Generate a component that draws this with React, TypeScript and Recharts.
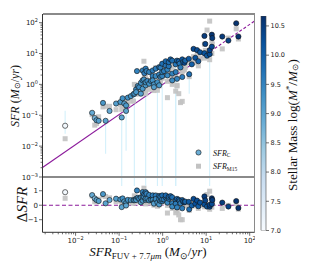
import React from "react";
import { ScatterChart, Scatter, XAxis, YAxis, ErrorBar, ReferenceLine, Legend, BarChart, Bar } from "recharts";

// one entry per galaxy, all in log10 units
const logSfrFuv = [
  -2.24, -1.62, -1.56, -1.52, -1.47, -1.37, -1.31, -1.22, -1.07, -0.97,
  -0.94, -0.92, -0.88, -0.84, -0.84, -0.8, -0.73, -0.67, -0.65, -0.61,
  -0.61, -0.59, -0.57, -0.54, -0.5, -0.5, -0.46, -0.46, -0.46, -0.43,
  -0.42, -0.39, -0.39, -0.39, -0.37, -0.35, -0.31, -0.31, -0.27, -0.23,
  -0.23, -0.23, -0.2, -0.2, -0.16, -0.16, -0.12, -0.08, -0.08, -0.08,
  -0.05, -0.05, -0.01, -0.01, -0.01, 0.03, 0.07, 0.07, 0.11, 0.11,
  0.14, 0.14, 0.18, 0.22, 0.22, 0.22, 0.3, 0.3, 0.33, 0.33,
  0.37, 0.39, 0.41, 0.45, 0.45, 0.47, 0.5, 0.52, 0.6, 0.61,
  0.67, 0.71, 0.75, 0.79, 0.82, 0.86, 0.96, 0.96, 0.98, 1.02,
  1.08, 1.08, 1.13, 1.13, 1.14, 1.37, 1.51, 1.69, 1.74,
];
const logSfrC = [
  -1.34, -0.92, -1.09, -1.16, -1.18, -0.6, -1.18, -0.86, -0.62, -0.57,
  -1.07, -0.45, -0.62, -0.68, -0.86, -0.43, -0.38, -0.32, -0.3, -0.16,
  -0.25, 0.43, -0.05, -0.09, 0.05, -0.3, -0.14, 0.45, 0.13, 0.16,
  0.36, -0.03, 0.07, 0.51, 0.43, 0.11, 0.02, 0.4, 0.11, 0.27,
  0.45, 0.13, 0.0, -0.09, 0.51, 0.27, 0.07, 0.56, 0.32, -0.03,
  0.24, 0.54, 0.27, 0.4, 0.67, 0.43, 0.61, 0.75, 0.48, 0.29,
  0.59, 0.72, 0.81, 0.77, 0.35, 0.13, 0.65, 0.4, 0.77, 0.18,
  0.75, 0.67, 0.55, 0.81, 0.24, 0.72, 0.7, 0.77, 0.83, 0.33,
  0.65, 1.15, 0.86, 1.11, 0.75, 1.04, 1.57, 1.01, 1.31, 0.93,
  0.98, 1.11, 1.61, 1.22, 1.5, 1.55, 1.42, 1.98, 1.55,
];
const logSfrM15 = [
  -1.76, -0.98, -1.32, -1.27, -1.05, -0.73, -0.71, -0.71, -0.82, -0.65,
  -0.81, -0.7, -0.7, -0.65, -0.54, -0.65, -0.54, -0.54, 0.0, -0.1,
  -0.32, -0.28, -0.28, -0.27, -0.3, -0.19, -0.16, 0.1, -0.09, 0.75,
  0.2, -0.19, -0.3, 0.25, 0.15, -0.1, -0.16, 0.1, -0.05, 0.0,
  0.2, -0.1, -0.09, -0.2, 0.54, 0.05, -0.19, 0.3, 0.15, -0.05,
  0.1, 0.3, 0.2, 0.25, 0.4, 0.32, 0.4, 0.55, -0.43, 0.1,
  0.45, 0.5, 0.6, 0.55, 0.2, 0.0, -0.22, 0.25, -0.05, -0.03,
  -0.3, 0.5, -0.59, -0.55, 0.4, 0.45, 0.48, 0.55, 0.7, 0.25,
  0.81, 0.9, 0.7, 0.95, 0.6, 0.85, 1.3, 0.85, 1.1, 1.76,
  0.8, 2.05, 1.4, 1.0, 1.3, 1.15, 1.5, 1.8, 1.47,
];
const logMass = [
  7.1, 8.9, 8.7, 9.0, 9.1, 9.2, 9.0, 8.9, 9.1, 9.2,
  9.0, 9.3, 9.1, 9.2, 9.0, 9.3, 9.2, 9.1, 9.3, 9.4,
  9.2, 9.5, 9.3, 9.4, 9.3, 9.1, 9.2, 9.5, 9.4, 9.3,
  9.6, 9.2, 9.3, 9.6, 9.5, 9.4, 9.3, 9.5, 9.4, 9.5,
  9.6, 9.3, 9.2, 9.1, 9.6, 9.4, 9.3, 9.7, 9.5, 9.2,
  9.4, 9.6, 9.5, 9.5, 9.8, 9.6, 9.7, 9.9, 9.5, 9.4,
  9.7, 9.8, 10.0, 9.8, 9.5, 9.4, 9.7, 9.6, 9.9, 9.5,
  10.0, 9.7, 9.6, 10.1, 9.6, 9.8, 10.3, 9.9, 10.1, 9.8,
  10.0, 10.3, 10.2, 10.3, 10.0, 10.2, 10.5, 10.2, 10.4, 10.1,
  10.3, 10.4, 10.6, 10.3, 10.5, 10.5, 10.4, 10.6, 10.6,
];

// SFR_C uncertainties that show up as pale bars (log10 bounds)
const errFuv = [-2.24, -1.31, -0.94, -0.84, -0.65, -0.39, -0.12, -0.01, 0.3, 0.3, 0.61, 1.08];
const errMid = [-1.34, -1.18, -1.07, -0.68, -0.3, -0.03, 0.07, 0.27, 0.65, 0.4, 0.33, 0.98];
const errLow = [-1.6, -2.25, -3.5, -2.15, -3.5, -3.5, -3.5, -3.5, -3.5, -3.5, -0.3, -3.5];
const errHigh = [-0.85, -1.1, -1.0, -0.6, -0.25, 0.0, 0.1, 0.3, 0.8, 0.45, 0.45, 1.0];

// fitted relation (solid) and its continuation (dashed), log10
const fitFuv = [-2.76, 1.1];
const fitSfr = [-2.69, 1.07];
const extFuv = [1.1, 2.11];
const extSfr = [1.07, 2.05];

const xDecades = [-2, -1, 0, 1, 2];
const yDecades = [-3, -2, -1, 0, 1, 2];
const residTicks = [-1, 0, 1];
const massTicks = [7.0, 7.5, 8.0, 8.5, 9.0, 9.5, 10.0, 10.5];

const X_LIM = [-2.76, 2.11];
const Y_LIM = [-3, 2.28];
const RESID_LIM = [-1.87, 1.95];
const MASS_MIN = 7.0;
const MASS_MAX = 10.67;

const PURPLE = "#8b1a9b";
const AXIS = "#333";
const SPINE = "#8a8a8a";
const BLUES = ["#f7fbff", "#deebf7", "#c6dbef", "#9ecae1", "#6baed6", "#4292c6", "#2171b5", "#08519c", "#08306b"];

const p10 = (v: number) => Math.pow(10, v);

function hexMix(a: string, b: string, f: number) {
  const pa = [1, 3, 5].map((i) => parseInt(a.slice(i, i + 2), 16));
  const pb = [1, 3, 5].map((i) => parseInt(b.slice(i, i + 2), 16));
  return `rgb(${pa.map((v, i) => Math.round(v + (pb[i] - v) * f)).join(",")})`;
}

function massColor(m: number) {
  const t = Math.min(1, Math.max(0, (m - MASS_MIN) / (MASS_MAX - MASS_MIN)));
  const pos = t * (BLUES.length - 1);
  const i = Math.min(BLUES.length - 2, Math.floor(pos));
  return hexMix(BLUES[i], BLUES[i + 1], pos - i);
}

const logTicks = (decades: number[], lo: number, hi: number) => {
  const out: number[] = [];
  [decades[0] - 1, ...decades].forEach((d) => {
    for (let k = 1; k <= 9; k++) {
      const v = k * p10(d);
      if (Math.log10(v) >= lo - 1e-9 && Math.log10(v) <= hi) out.push(v);
    }
  });
  return out.sort((a, b) => a - b);
};

const circles = logSfrFuv.map((lx, i) => ({ x: p10(lx), y: p10(logSfrC[i]), mass: logMass[i] }));
const squares = logSfrFuv.map((lx, i) => ({ x: p10(lx), y: p10(logSfrM15[i]) }));
const residC = logSfrFuv.map((lx, i) => ({ x: p10(lx), y: logSfrC[i] - lx, mass: logMass[i] }));
const residM15 = logSfrFuv.map((lx, i) => ({ x: p10(lx), y: logSfrM15[i] - lx }));
const errRows = errFuv.map((lx, i) => {
  const mid = p10(errMid[i]);
  return { x: p10(lx), y: mid, err: [mid - p10(errLow[i]), p10(errHigh[i]) - mid] };
});
const fitLine = fitFuv.map((lx, i) => ({ x: p10(lx), y: p10(fitSfr[i]) }));
const extLine = extFuv.map((lx, i) => ({ x: p10(lx), y: p10(extSfr[i]) }));
const colorbar = [{ name: "mass", range: [MASS_MIN, MASS_MAX] }];

const isMajor = (v: number) => Math.abs(Math.log10(v) - Math.round(Math.log10(v))) < 1e-6;
const expText = (v: number) => {
  const e = Math.round(Math.log10(v));
  return e < 0 ? `\u2212${-e}` : `${e}`;
};

const TICK_FONT = "DejaVu Sans";
const SERIF = "Liberation Serif";

function LogYTick({ x, y, payload }: any) {
  const major = isMajor(payload.value);
  return (
    <g>
      <line x1={x - (major ? 3.5 : 2)} x2={x} y1={y} y2={y} stroke={AXIS} strokeWidth={0.7} />
      {major && (
        <text x={x - 4.5} y={y + 2.5} textAnchor="end" fontSize={7} fontFamily={TICK_FONT} fill="#222">
          10<tspan fontSize={5} dy={-3}>{expText(payload.value)}</tspan>
        </text>
      )}
    </g>
  );
}

function LogXTick({ x, y, payload }: any) {
  const major = isMajor(payload.value);
  return (
    <g>
      <line x1={x} x2={x} y1={y} y2={y + (major ? 3.5 : 2)} stroke={AXIS} strokeWidth={0.7} />
      {major && (
        <text x={x} y={y + 11} textAnchor="middle" fontSize={7} fontFamily={TICK_FONT} fill="#222">
          10<tspan fontSize={5} dy={-3}>{expText(payload.value)}</tspan>
        </text>
      )}
    </g>
  );
}

function LinYTick({ x, y, payload }: any) {
  const v = payload.value;
  return (
    <g>
      <line x1={x - 3.5} x2={x} y1={y} y2={y} stroke={AXIS} strokeWidth={0.7} />
      <text x={x - 4.5} y={y + 2.5} textAnchor="end" fontSize={7} fontFamily={TICK_FONT} fill="#222">
        {v < 0 ? `\u2212${-v}` : v}
      </text>
    </g>
  );
}

function MassTick({ x, y, payload }: any) {
  return (
    <g>
      <line x1={x} x2={x + 3} y1={y} y2={y} stroke={AXIS} strokeWidth={0.7} />
      <text x={x + 4.5} y={y + 2.3} fontSize={6.5} fontFamily={TICK_FONT} fill="#222">
        {payload.value.toFixed(1)}
      </text>
    </g>
  );
}

const Empty = () => <g />;

const Dot = (props: any) => (
  <circle cx={props.cx} cy={props.cy} r={2.6} fill={massColor(props.payload.mass)} stroke="#111" strokeWidth={0.6} />
);
const Box = (props: any) => (
  <rect x={props.cx - 2.5} y={props.cy - 2.5} width={5} height={5} fill="#c2c2c2" fillOpacity={0.9} />
);

const SfrTitle = () => (
  <text transform="rotate(-90, 14.5, 96)" x={14.5} y={96} textAnchor="middle" dominantBaseline="central" fontFamily={SERIF} fontSize={12} fill="#111">
    <tspan fontStyle="italic">SFR</tspan>
    <tspan> (</tspan>
    <tspan fontStyle="italic">M</tspan>
    <tspan fontSize={8} dy={2.5}>⊙</tspan>
    <tspan dy={-2.5}>/</tspan>
    <tspan fontStyle="italic">yr</tspan>
    <tspan>)</tspan>
  </text>
);

const ResidTitle = () => (
  <text transform="rotate(-90, 21.5, 27.5)" x={21.5} y={27.5} textAnchor="middle" dominantBaseline="central" fontFamily={SERIF} fontSize={15} fill="#111">
    <tspan>Δ</tspan>
    <tspan fontStyle="italic">SFR</tspan>
  </text>
);

const FuvTitle = () => (
  <text x={148} y={79} textAnchor="middle" fontFamily={SERIF} fontSize={13} fill="#111">
    <tspan fontStyle="italic">SFR</tspan>
    <tspan fontSize={9} dy={2.5}>FUV + 7.7</tspan>
    <tspan fontSize={9} fontStyle="italic">μm</tspan>
    <tspan dy={-2.5}>{"  ("}</tspan>
    <tspan fontStyle="italic">M</tspan>
    <tspan fontSize={9} dy={2.5}>⊙</tspan>
    <tspan dy={-2.5}>/</tspan>
    <tspan fontStyle="italic">yr</tspan>
    <tspan>)</tspan>
  </text>
);

const MassTitle = () => (
  <text
    transform="rotate(-90, 37.5, 125)"
    x={37.5}
    y={125}
    textAnchor="middle"
    dominantBaseline="central"
    fontFamily={SERIF}
    fontSize={12}
    textLength={132}
    lengthAdjust="spacingAndGlyphs"
    fill="#111"
  >
    <tspan>Stellar Mass log(</tspan>
    <tspan fontStyle="italic">M</tspan>
    <tspan fontSize={8} dy={-4}>*</tspan>
    <tspan dy={4}>/</tspan>
    <tspan fontStyle="italic">M</tspan>
    <tspan fontSize={8} dy={2.5}>⊙</tspan>
    <tspan dy={-2.5}>)</tspan>
  </text>
);

const LegendBox = () => (
  <svg width={62} height={28} style={{ display: "block" }}>
    <circle cx={6.5} cy={6.5} r={2.6} fill={BLUES[4]} stroke="#111" strokeWidth={0.6} />
    <text x={21} y={9.5} fontFamily={SERIF} fontSize={8} fill="#111">
      <tspan fontStyle="italic">SFR</tspan>
      <tspan fontSize={5.5} dy={1.8}>C</tspan>
    </text>
    <rect x={4} y={17.7} width={5} height={5} fill="#c2c2c2" />
    <text x={21} y={23.3} fontFamily={SERIF} fontSize={8} fill="#111">
      <tspan fontStyle="italic">SFR</tspan>
      <tspan fontSize={5.5} dy={1.8}>M15</tspan>
    </text>
  </svg>
);

const line = (style: React.CSSProperties) => (
  <div style={{ position: "absolute", background: SPINE, pointerEvents: "none", ...style }} />
);

export default function App() {
  const xTicks = logTicks(xDecades, X_LIM[0], X_LIM[1]);
  const yTicks = logTicks(yDecades, Y_LIM[0], Y_LIM[1]);
  const xDomain = [p10(X_LIM[0]), p10(X_LIM[1])];

  return (
    <div style={{ position: "absolute", left: 0, top: 0, width: 315, height: 270, background: "#fff" }}>
      <div style={{ position: "absolute", left: 0, top: 177 }}>
        <ScatterChart width={255} height={93} margin={{ top: 0, right: 0.5, bottom: 0, left: 0 }}>
          <XAxis
            type="number"
            dataKey="x"
            scale="log"
            domain={xDomain}
            allowDataOverflow
            ticks={xTicks}
            interval={0}
            height={37.7}
            tickSize={0}
            tickMargin={0}
            tickLine={false}
            tick={<LogXTick />}
            axisLine={{ stroke: AXIS, strokeWidth: 1 }}
            label={<FuvTitle />}
          />
          <YAxis
            type="number"
            dataKey="y"
            domain={RESID_LIM}
            allowDataOverflow
            ticks={residTicks}
            interval={0}
            width={42.5}
            tickSize={0}
            tickMargin={0}
            tickLine={false}
            tick={<LinYTick />}
            axisLine={{ stroke: AXIS, strokeWidth: 1 }}
            label={<ResidTitle />}
          />
          <ReferenceLine y={0} stroke={PURPLE} strokeWidth={1.1} strokeDasharray="4 2.5" />
          <Scatter data={residM15} shape={Box} isAnimationActive={false} />
          <Scatter data={residC} shape={Dot} isAnimationActive={false} />
        </ScatterChart>
      </div>

      <div style={{ position: "absolute", left: 0, top: 0 }}>
        <ScatterChart width={255} height={186} margin={{ top: 14, right: 0.5, bottom: 9, left: 0 }}>
          <XAxis type="number" dataKey="x" scale="log" domain={xDomain} allowDataOverflow hide />
          <YAxis
            type="number"
            dataKey="y"
            scale="log"
            domain={[p10(Y_LIM[0]), p10(Y_LIM[1])]}
            allowDataOverflow
            ticks={yTicks}
            interval={0}
            width={42.5}
            tickSize={0}
            tickMargin={0}
            tickLine={false}
            tick={<LogYTick />}
            axisLine={{ stroke: AXIS, strokeWidth: 1 }}
            label={<SfrTitle />}
          />
          <Scatter data={errRows} shape={Empty} isAnimationActive={false}>
            <ErrorBar dataKey="err" direction="y" width={0} stroke="#d3f0fb" strokeWidth={1.1} isAnimationActive={false} />
          </Scatter>
          <Scatter data={fitLine} line={{ stroke: PURPLE, strokeWidth: 1.1 }} shape={Empty} isAnimationActive={false} />
          <Scatter data={extLine} line={{ stroke: PURPLE, strokeWidth: 1.1, strokeDasharray: "3 2" }} shape={Empty} isAnimationActive={false} />
          <Scatter data={squares} shape={Box} isAnimationActive={false} />
          <Scatter data={circles} shape={Dot} isAnimationActive={false} />
          <Legend layout="vertical" align="center" verticalAlign="middle" wrapperStyle={{ left: 192, top: 146, width: 62 }} content={LegendBox} />
        </ScatterChart>
      </div>

      <div style={{ position: "absolute", left: 255, top: 0 }}>
        <BarChart width={60} height={270} data={colorbar} margin={{ top: 16, right: 0, bottom: 39.5, left: 6 }} barCategoryGap={0}>
          <defs>
            <linearGradient id="bluesBar" x1="0" y1="1" x2="0" y2="0">
              {BLUES.map((c, i) => (
                <stop key={c} offset={`${(i / (BLUES.length - 1)) * 100}%`} stopColor={c} />
              ))}
            </linearGradient>
          </defs>
          <XAxis dataKey="name" hide />
          <YAxis
            orientation="right"
            type="number"
            domain={[MASS_MIN, MASS_MAX]}
            allowDataOverflow
            ticks={massTicks}
            interval={0}
            width={49}
            tickSize={0}
            tickMargin={0}
            tickLine={false}
            axisLine={false}
            tick={<MassTick />}
            label={<MassTitle />}
          />
          <Bar dataKey="range" fill="url(#bluesBar)" stroke="#444" strokeWidth={0.6} isAnimationActive={false} />
        </BarChart>
      </div>

      {line({ left: 42.5, top: 13.4, width: 212.6, height: 1.2 })}
      {line({ left: 254, top: 13.4, width: 1.2, height: 219.4 })}
      {line({ left: 42.5, top: 176.3, width: 212.6, height: 1.6 })}
    </div>
  );
}
